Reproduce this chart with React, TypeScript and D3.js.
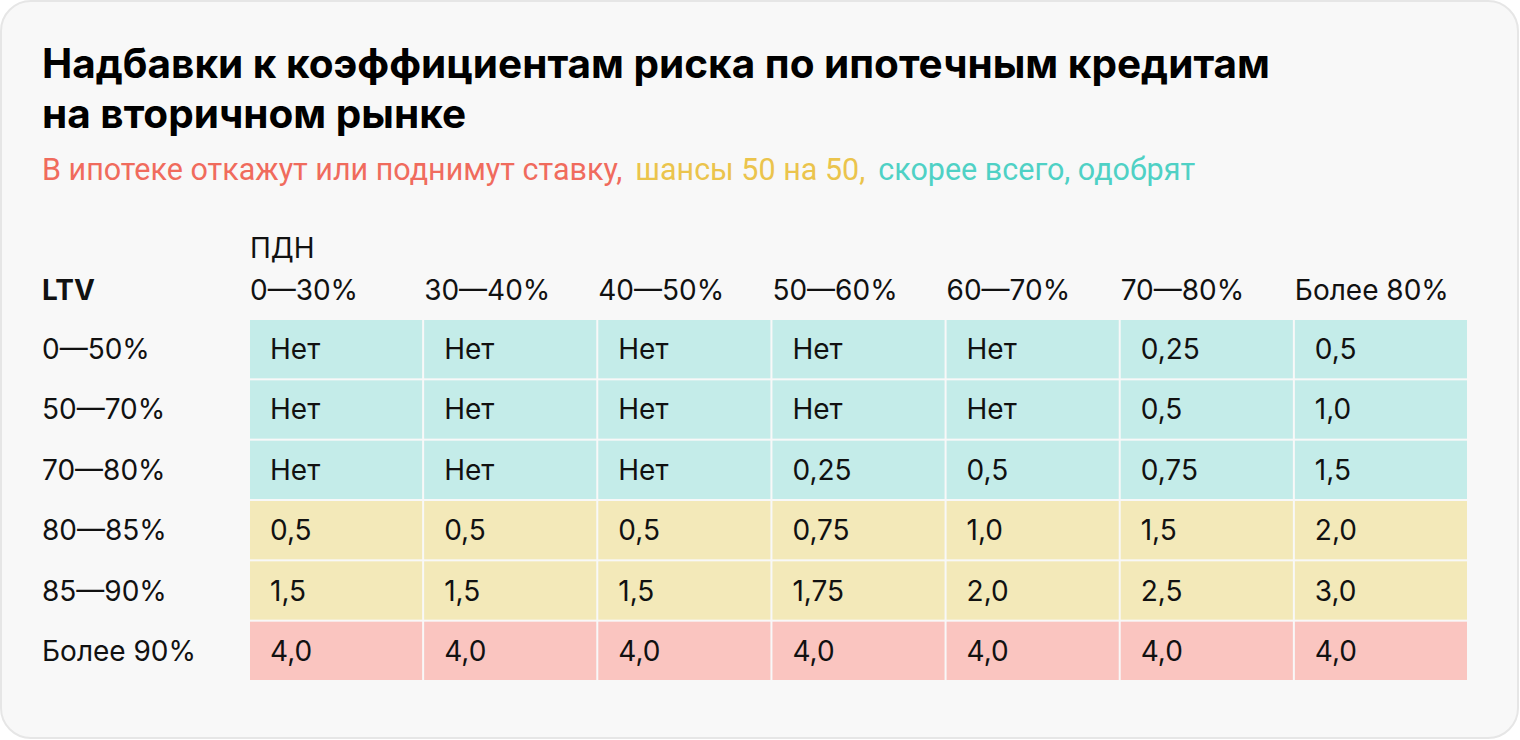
import React from "react";
import * as d3 from "d3";

// ПДН columns, LTV rows
const pdnBands = ["0—30%", "30—40%", "40—50%", "50—60%", "60—70%", "70—80%", "Более 80%"];
const ltvBands = ["0—50%", "50—70%", "70—80%", "80—85%", "85—90%", "Более 90%"];

const surcharges = [
  ["Нет", "Нет", "Нет", "Нет", "Нет", "0,25", "0,5"],
  ["Нет", "Нет", "Нет", "Нет", "Нет", "0,5", "1,0"],
  ["Нет", "Нет", "Нет", "0,25", "0,5", "0,75", "1,5"],
  ["0,5", "0,5", "0,5", "0,75", "1,0", "1,5", "2,0"],
  ["1,5", "1,5", "1,5", "1,75", "2,0", "2,5", "3,0"],
  ["4,0", "4,0", "4,0", "4,0", "4,0", "4,0", "4,0"],
];

// row zone: approve / 50-50 / refuse
const rowZone = ["ok", "ok", "ok", "mid", "mid", "bad"];

const zoneColor = d3.scaleOrdinal<string, string>()
  .domain(["ok", "mid", "bad"])
  .range(["#c4ece9", "#f3e9b9", "#fac5c0"]);

const legendParts = [
  { text: "В ипотеке откажут или поднимут ставку,", color: "#f06b5d" },
  { text: "шансы 50 на 50,", color: "#ebc44c" },
  { text: "скорее всего, одобрят", color: "#4fd1c5" },
];

const W = 1520;
const H = 740;
const font = "Inter, 'Noto Sans', sans-serif";
const fs = 28;

const App = () => {
  const x = d3.scaleBand().domain(pdnBands).range([250, 1467]).paddingInner(2 / 174);
  const y = d3.scaleBand().domain(ltvBands).range([320, 680]).paddingInner(2 / 60);

  return (
    <svg width={W} height={H} style={{ position: "absolute", left: 0, top: 0 }}>
      <rect x={1} y={1} width={W - 3} height={H - 3} rx={30} fill="#f8f8f8" stroke="#e6e6e6" strokeWidth={2} />

      <text x={42} y={78} fontFamily={font} fontWeight={700} fontSize={40.5} fill="#000">
        Надбавки к коэффициентам риска по ипотечным кредитам
      </text>
      <text x={42} y={128} fontFamily={font} fontWeight={700} fontSize={40.5} fill="#000">
        на вторичном рынке
      </text>

      <text x={42} y={180} fontFamily="Roboto, sans-serif" fontSize={30.5}>
        {legendParts.map((p, i) => (
          <tspan key={i} fill={p.color} dx={i === 0 ? 0 : 13}>{p.text}</tspan>
        ))}
      </text>

      <text x={250} y={258} fontFamily={font} fontSize={fs} fill="#111">ПДН</text>
      <text x={42} y={300} fontFamily={font} fontWeight={700} fontSize={fs} fill="#111">LTV</text>
      {pdnBands.map((c) => (
        <text key={c} x={x(c)} y={300} fontFamily={font} fontSize={fs} fill="#111">{c}</text>
      ))}

      {ltvBands.map((r, ri) => (
        <g key={r}>
          <text x={42} y={(y(r) as number) + y.bandwidth() / 2 + 10} fontFamily={font} fontSize={fs} fill="#111">{r}</text>
          {pdnBands.map((c, ci) => (
            <g key={c}>
              <rect x={x(c)} y={y(r)} width={x.bandwidth()} height={y.bandwidth()} fill={zoneColor(rowZone[ri])} />
              <text
                x={(x(c) as number) + 20}
                y={(y(r) as number) + y.bandwidth() / 2 + 10}
                fontFamily={font}
                fontSize={fs}
                fill="#111"
              >
                {surcharges[ri][ci]}
              </text>
            </g>
          ))}
        </g>
      ))}
    </svg>
  );
};

export default App;
